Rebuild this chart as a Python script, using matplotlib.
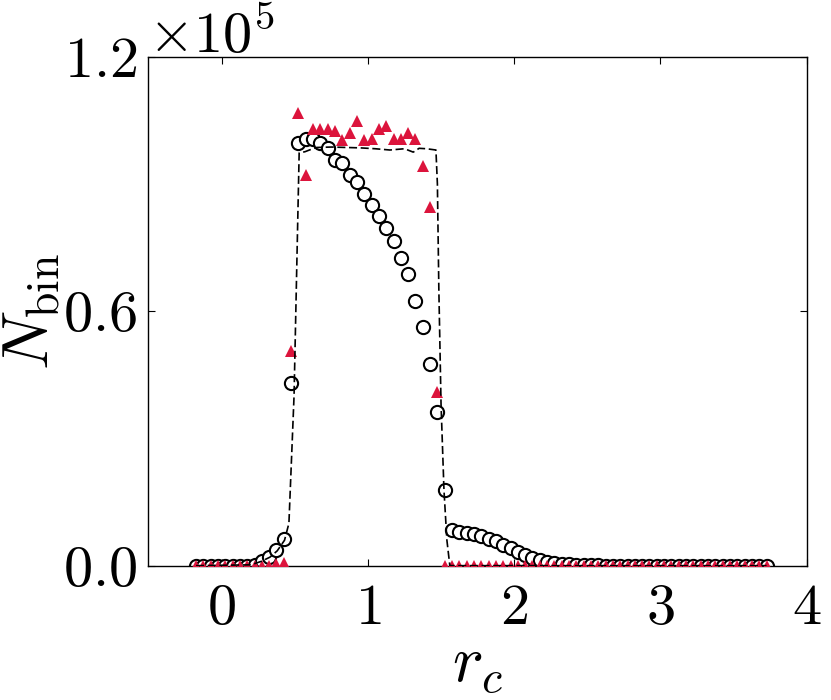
import numpy as np
import matplotlib
matplotlib.use("Agg")
import matplotlib.pyplot as plt

# Bin centres (bins of width 0.05)
r_c = np.round(np.arange(-0.175, 3.75, 0.05), 3)

# Open circles
n_circles = [0, 0, 0, 0, 0, 0, 0, 0,
             200, 1100, 2000, 3600, 6400, 43000,
             99600, 100500, 100700, 99600, 98400, 95600, 94900, 92100, 90500,
             87600, 85000, 82400, 79700, 76500, 72600, 68800, 62400, 56300,
             47500, 36200, 17800,
             8400, 8000, 7600, 7400, 7000, 6400, 5800, 4900, 4100, 3300,
             2500, 1900, 1300, 900, 600, 400, 300, 200, 150, 100, 60, 40,
             0, 0, 0, 0, 0, 0, 0, 0, 0, 0, 0, 0, 0, 0, 0, 0, 0, 0, 0, 0, 0, 0]

# Red triangles
n_triangles = [0, 0, 0, 0, 0, 0, 0, 0, 0, 0, 0,
               300, 700,
               50700, 106800, 92100, 102900, 102900, 102900, 102500, 100400,
               102100, 104800, 100400, 100500, 102900, 103700, 100500, 100500,
               102100, 100700, 94300, 84600, 41000,
               0, 0, 0, 0, 0, 0, 0, 0, 0, 0, 0, 0, 0, 0, 0, 0, 0, 0, 0, 0,
               0, 0, 0, 0, 0, 0, 0, 0, 0, 0, 0, 0, 0, 0, 0, 0, 0, 0, 0, 0,
               0, 0, 0, 0, 0]

# Dashed curve
dash_x = [-0.175, 0.20, 0.27, 0.33, 0.38, 0.43, 0.46, 0.495, 0.53, 0.57,
          0.60, 0.65, 0.75, 0.85, 0.95, 1.05, 1.15, 1.25, 1.31, 1.35, 1.40,
          1.465, 1.475, 1.485, 1.50, 1.52, 1.54, 1.56, 3.725]
dash_n = [0, 200, 1000, 2000, 3500, 6000, 10000, 40000, 97300, 97600,
          98000, 98600, 98700, 98600, 98500, 98300, 98000, 98300, 97500,
          98400, 98300, 98000, 90000, 65000, 38000, 17800, 6000, 0, 0]

plt.rcParams["font.family"] = "serif"
plt.rcParams["font.serif"] = ["cmr10"]
plt.rcParams["mathtext.fontset"] = "cm"
plt.rcParams["axes.formatter.use_mathtext"] = True
plt.rcParams["lines.scale_dashes"] = False

fig = plt.figure(figsize=(8.31, 7), dpi=100)
ax = fig.add_axes([0.1787, 0.1919, 0.7921, 0.7271])

ax.plot(r_c, n_circles, "o", ms=9.5, mfc="white", mec="black", mew=1.5, zorder=2)
ax.plot(r_c, n_triangles, "^", ms=9, color="#dc143c", mew=0, zorder=3)
ax.plot(dash_x, dash_n, color="black", lw=1.2, dashes=(5.8, 2.6), zorder=4)

ax.set_xlim(-0.5, 4)
ax.set_ylim(0, 120000)
ax.set_xticks([0, 1, 2, 3, 4])
ax.set_yticks([0, 60000, 120000])
ax.ticklabel_format(axis="y", style="sci", scilimits=(0, 0), useMathText=True)
ax.tick_params(direction="in", top=True, right=True, length=5, width=0.8,
               labelsize=42)
ax.tick_params(axis="x", pad=13)
ax.tick_params(axis="y", pad=8)
ax.yaxis.get_offset_text().set_fontsize(42)
for s in ax.spines.values():
    s.set_linewidth(1.0)

ax.set_xlabel(r"$r_c$", fontsize=47, labelpad=2)
ax.set_ylabel(r"$N_{\rm bin}$", fontsize=47, labelpad=1)

fig.savefig("out.png", dpi=100)
